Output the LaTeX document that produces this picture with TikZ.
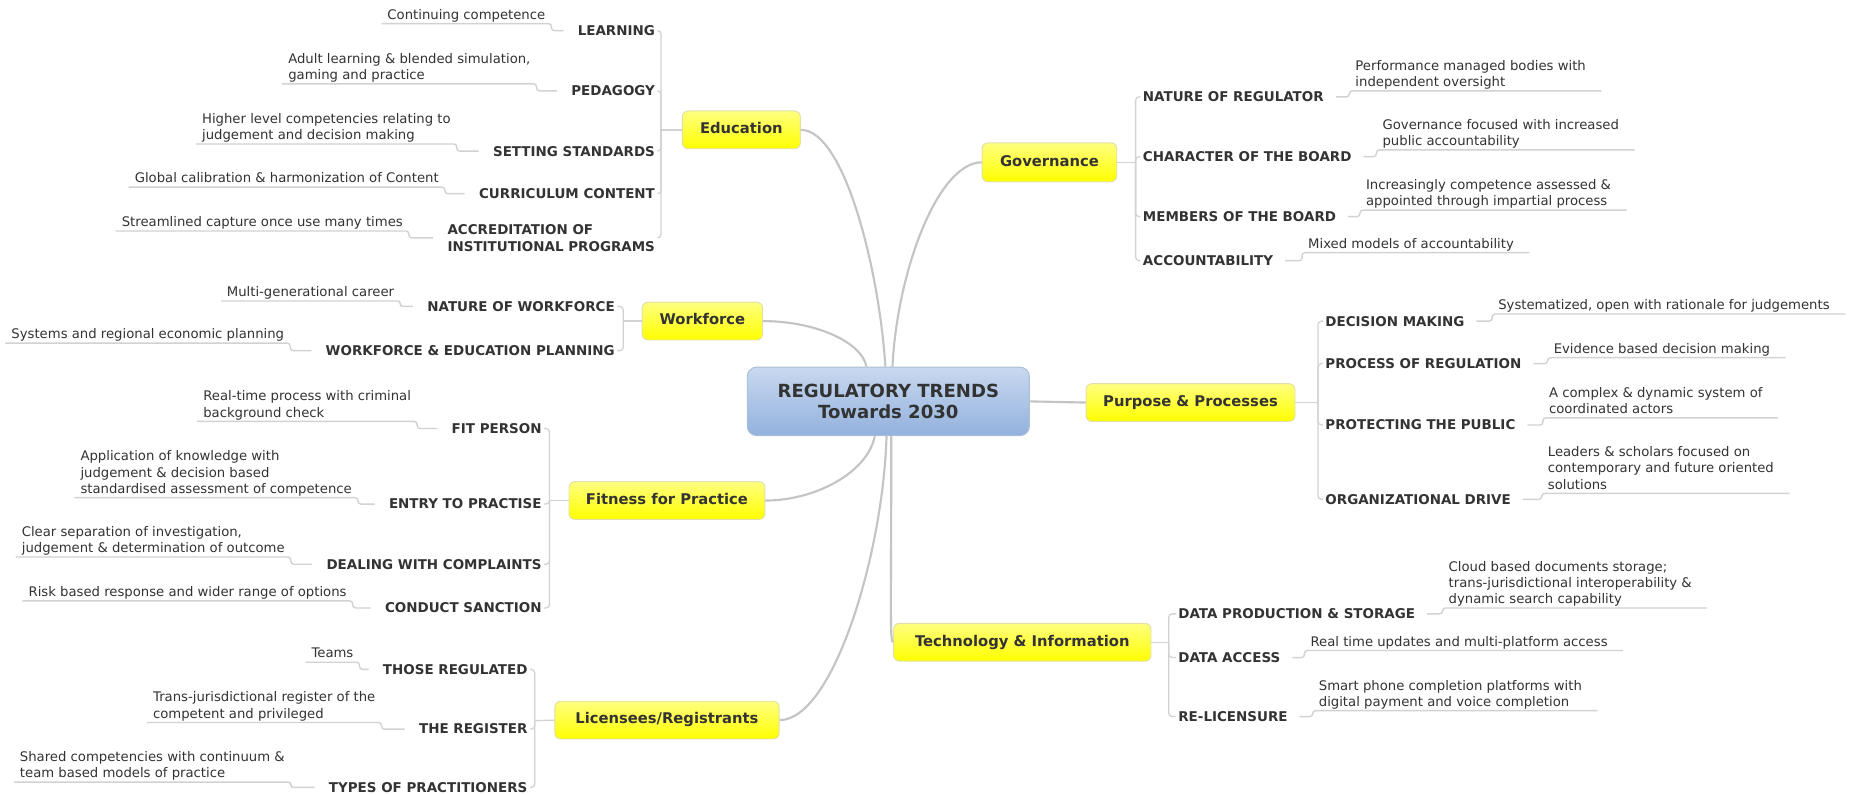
\documentclass[tikz,border=0pt]{standalone}
\usepackage{fontspec}
\setmainfont{DejaVu Sans}
\definecolor{txt}{HTML}{333333}
\definecolor{conn}{HTML}{C4C4C4}
\definecolor{brk}{HTML}{D2D2D2}
\definecolor{ytop}{HTML}{FFFF80}
\definecolor{ybot}{HTML}{FFFF00}
\definecolor{yedge}{HTML}{E0E0A8}
\definecolor{ctop}{HTML}{C9D9EF}
\definecolor{cbot}{HTML}{92B1DD}
\definecolor{cedge}{HTML}{AABED9}
\newcommand{\leafstrut}{\rule[-3pt]{0pt}{3pt}}
\begin{document}
\begin{tikzpicture}[x=1pt,y=-1pt,
  hubline/.style={draw=brk, line width=1.1pt, rounded corners=3pt},
  mainline/.style={draw=conn, line width=1.8pt},
  leafline/.style={draw=brk, line width=1.2pt, rounded corners=2.5pt},
  topicbox/.style={draw=yedge, line width=0.8pt, rounded corners=5pt,
    top color=ytop, bottom color=ybot, text=txt,
    font=\fontsize{12.5}{15}\selectfont\bfseries, inner sep=0pt,
    text height=9pt, text depth=2.5pt},
  centralbox/.style={draw=cedge, line width=0.8pt, rounded corners=8pt,
    top color=ctop, bottom color=cbot, text=txt, align=center,
    font=\fontsize{15.3}{17.7}\selectfont\bfseries, inner sep=0pt,
    minimum width=239pt, minimum height=58pt},
  subL/.style={anchor=east, text=txt, font=\fontsize{11.4}{14}\selectfont\bfseries,
    inner xsep=2pt, inner ysep=1pt, align=left},
  subR/.style={anchor=west, text=txt, font=\fontsize{11.4}{14}\selectfont\bfseries,
    inner xsep=2pt, inner ysep=1pt, align=left},
  leaf/.style={anchor=south west, text=txt, font=\fontsize{11.2}{13.7}\selectfont,
    inner xsep=5pt, inner ysep=0.5pt, align=left}
]
\fill[white] (0,0) rectangle (1568,673);
\useasboundingbox (0,0) rectangle (1568,673);

% central and topics
\node[centralbox] (c) at (752.5,340) {REGULATORY TRENDS\\Towards 2030};
\node[topicbox, minimum width=100pt, minimum height=32pt] (edu) at (628,110) {Education};
\node[topicbox, minimum width=102pt, minimum height=32pt] (wf) at (595,272) {Workforce};
\node[topicbox, minimum width=166pt, minimum height=32pt] (fit) at (565,424) {Fitness for Practice};
\node[topicbox, minimum width=190pt, minimum height=32pt] (lic) at (565,610) {Licensees/Registrants};
\node[topicbox, minimum width=114pt, minimum height=33pt] (gov) at (889,137.5) {Governance};
\node[topicbox, minimum width=177pt, minimum height=32pt] (pp) at (1008.5,341) {Purpose \& Processes};
\node[topicbox, minimum width=218pt, minimum height=32pt] (tech) at (866,544) {Technology \& Information};

% main connectors
\draw[mainline] ([xshift=-2.5pt]c.north) .. controls +(-5,-81) and +(37,0) .. (edu.east);
\draw[mainline] ([xshift=3.5pt]c.north) .. controls +(4,-81) and +(-37,0) .. (gov.west);
\draw[mainline] ([xshift=-18.5pt]c.north) .. controls +(-4,-21) and +(44,0) .. (wf.east);
\draw[mainline] ([xshift=-11.5pt]c.south) .. controls +(-6,31) and +(42,0) .. (fit.east);
\draw[mainline] ([xshift=-1.5pt]c.south) .. controls +(-3,101) and +(45,0) .. (lic.east);
\draw[mainline] ([xshift=2.5pt]c.south) .. controls +(0,150) and +(-3,0) .. (tech.west);
\draw[mainline] (c.east) -- (pp.west);

% hubs
\coordinate (eduH) at (560,110);
\coordinate (wfH) at (528,272);
\coordinate (fitH) at (465.5,424);
\coordinate (licH) at (453,610.5);
\coordinate (govH) at (962,137.5);
\coordinate (ppH) at (1116.5,341);
\coordinate (techH) at (990,544);

% Education subtopics
\node[subL] (eL) at (557,26) {LEARNING};
\node[subL] (eP) at (557,77) {PEDAGOGY};
\node[subL] (eS) at (557,128) {SETTING STANDARDS};
\node[subL] (eC) at (557,164) {CURRICULUM CONTENT};
\node[subL] (eA) at (557,201.5) {ACCREDITATION OF\\INSTITUTIONAL PROGRAMS};
% Workforce
\node[subL] (wN) at (523,259.5) {NATURE OF WORKFORCE};
\node[subL] (wP) at (523,297) {WORKFORCE \& EDUCATION PLANNING};
% Fitness
\node[subL] (fF) at (461,363) {FIT PERSON};
\node[subL] (fE) at (461,427) {ENTRY TO PRACTISE};
\node[subL] (fD) at (461,478) {DEALING WITH COMPLAINTS};
\node[subL] (fC) at (461,515) {CONDUCT SANCTION};
% Licensees
\node[subL] (lT) at (449,567) {THOSE REGULATED};
\node[subL] (lR) at (449,617.6) {THE REGISTER};
\node[subL] (lP) at (449,667) {TYPES OF PRACTITIONERS};
% Governance
\node[subR] (gN) at (966,82) {NATURE OF REGULATOR};
\node[subR] (gC) at (966,132.7) {CHARACTER OF THE BOARD};
\node[subR] (gM) at (966,183.5) {MEMBERS OF THE BOARD};
\node[subR] (gA) at (966,220.8) {ACCOUNTABILITY};
% Purpose
\node[subR] (pD) at (1120.6,272) {DECISION MAKING};
\node[subR] (pP) at (1120.6,308) {PROCESS OF REGULATION};
\node[subR] (pT) at (1120.6,360) {PROTECTING THE PUBLIC};
\node[subR] (pO) at (1120.6,423) {ORGANIZATIONAL DRIVE};
% Technology
\node[subR] (tP) at (996,520) {DATA PRODUCTION \& STORAGE};
\node[subR] (tA) at (996,557) {DATA ACCESS};
\node[subR] (tR) at (996,607) {RE-LICENSURE};

% brackets
\draw[hubline] (edu.west) -- (eduH);
\foreach \s in {eL,eP,eS,eC,eA} \draw[hubline] (eduH) |- (\s.east);
\draw[hubline] (wf.west) -- (wfH);
\foreach \s in {wN,wP} \draw[hubline] (wfH) |- (\s.east);
\draw[hubline] (fit.west) -- (fitH);
\foreach \s in {fF,fE,fD,fC} \draw[hubline] (fitH) |- (\s.east);
\draw[hubline] (lic.west) -- (licH);
\foreach \s in {lT,lR,lP} \draw[hubline] (licH) |- (\s.east);
\draw[hubline] (gov.east) -- (govH);
\foreach \s in {gN,gC,gM,gA} \draw[hubline] (govH) |- (\s.west);
\draw[hubline] (pp.east) -- (ppH);
\foreach \s in {pD,pP,pT,pO} \draw[hubline] (ppH) |- (\s.west);
\draw[hubline] (tech.east) -- (techH);
\foreach \s in {tP,tA,tR} \draw[hubline] (techH) |- (\s.west);

% leaves left
\node[leaf] (eL1) at (323,20) {Continuing competence\leafstrut};
\node[leaf] (eP1) at (239,71) {Adult learning \& blended simulation,\\gaming and practice\leafstrut};
\node[leaf] (eS1) at (166,122) {Higher level competencies relating to\\judgement and decision making\leafstrut};
\node[leaf] (eC1) at (109,158.5) {Global calibration \& harmonization of Content\leafstrut};
\node[leaf] (eA1) at (98,195.7) {Streamlined capture once use many times\leafstrut};
\node[leaf] (wN1) at (187,255) {Multi-generational career\leafstrut};
\node[leaf] (wP1) at (4.5,290.7) {Systems and regional economic planning\leafstrut};
\node[leaf] (fF1) at (167,357) {Real-time process with criminal\\background check\leafstrut};
\node[leaf] (fE1) at (63,421.6) {Application of knowledge with\\judgement \& decision based\\standardised assessment of competence\leafstrut};
\node[leaf] (fD1) at (13.3,471.8) {Clear separation of investigation,\\judgement \& determination of outcome\leafstrut};
\node[leaf] (fC1) at (19,509) {Risk based response and wider range of options\leafstrut};
\node[leaf] (lT1) at (258.7,561) {Teams\leafstrut};
\node[leaf] (lR1) at (124.5,612) {Trans-jurisdictional register of the\\competent and privileged\leafstrut};
\node[leaf] (lP1) at (11.7,662.5) {Shared competencies with continuum \&\\team based models of practice\leafstrut};

\foreach \l/\s in {eL1/eL,eP1/eP,eS1/eS,eC1/eC,eA1/eA,wN1/wN,wP1/wP,fF1/fF,fE1/fE,fD1/fD,fC1/fC,lT1/lT,lR1/lR,lP1/lP}
  \draw[leafline] (\l.south west) -- (\l.south east) |- ([xshift=-10pt]\s.west);

% leaves right
\node[leaf] (gN1) at (1143,77) {Performance managed bodies with\\independent oversight\leafstrut};
\node[leaf] (gC1) at (1166,127) {Governance focused with increased\\public accountability\leafstrut};
\node[leaf] (gM1) at (1152,178) {Increasingly competence assessed \&\\appointed through impartial process\leafstrut};
\node[leaf] (gA1) at (1103,214) {Mixed models of accountability\leafstrut};
\node[leaf] (pD1) at (1264,266) {Systematized, open with rationale for judgements\leafstrut};
\node[leaf] (pP1) at (1311,303) {Evidence based decision making\leafstrut};
\node[leaf] (pT1) at (1307,354) {A complex \& dynamic system of\\coordinated actors\leafstrut};
\node[leaf] (pO1) at (1306,418) {Leaders \& scholars focused on\\contemporary and future oriented\\solutions\leafstrut};
\node[leaf] (tP1) at (1222,515) {Cloud based documents storage;\\trans-jurisdictional interoperability \&\\dynamic search capability\leafstrut};
\node[leaf] (tA1) at (1105,551) {Real time updates and multi-platform access\leafstrut};
\node[leaf] (tR1) at (1112,602) {Smart phone completion platforms with\\digital payment and voice completion\leafstrut};

\foreach \l/\s in {gN1/gN,gC1/gC,gM1/gM,gA1/gA,pD1/pD,pP1/pP,pT1/pT,pO1/pO,tP1/tP,tA1/tA,tR1/tR}
  \draw[leafline] ([xshift=8pt]\s.east) -| (\l.south west) -- ([xshift=8pt]\l.south east);
\end{tikzpicture}
\end{document}
